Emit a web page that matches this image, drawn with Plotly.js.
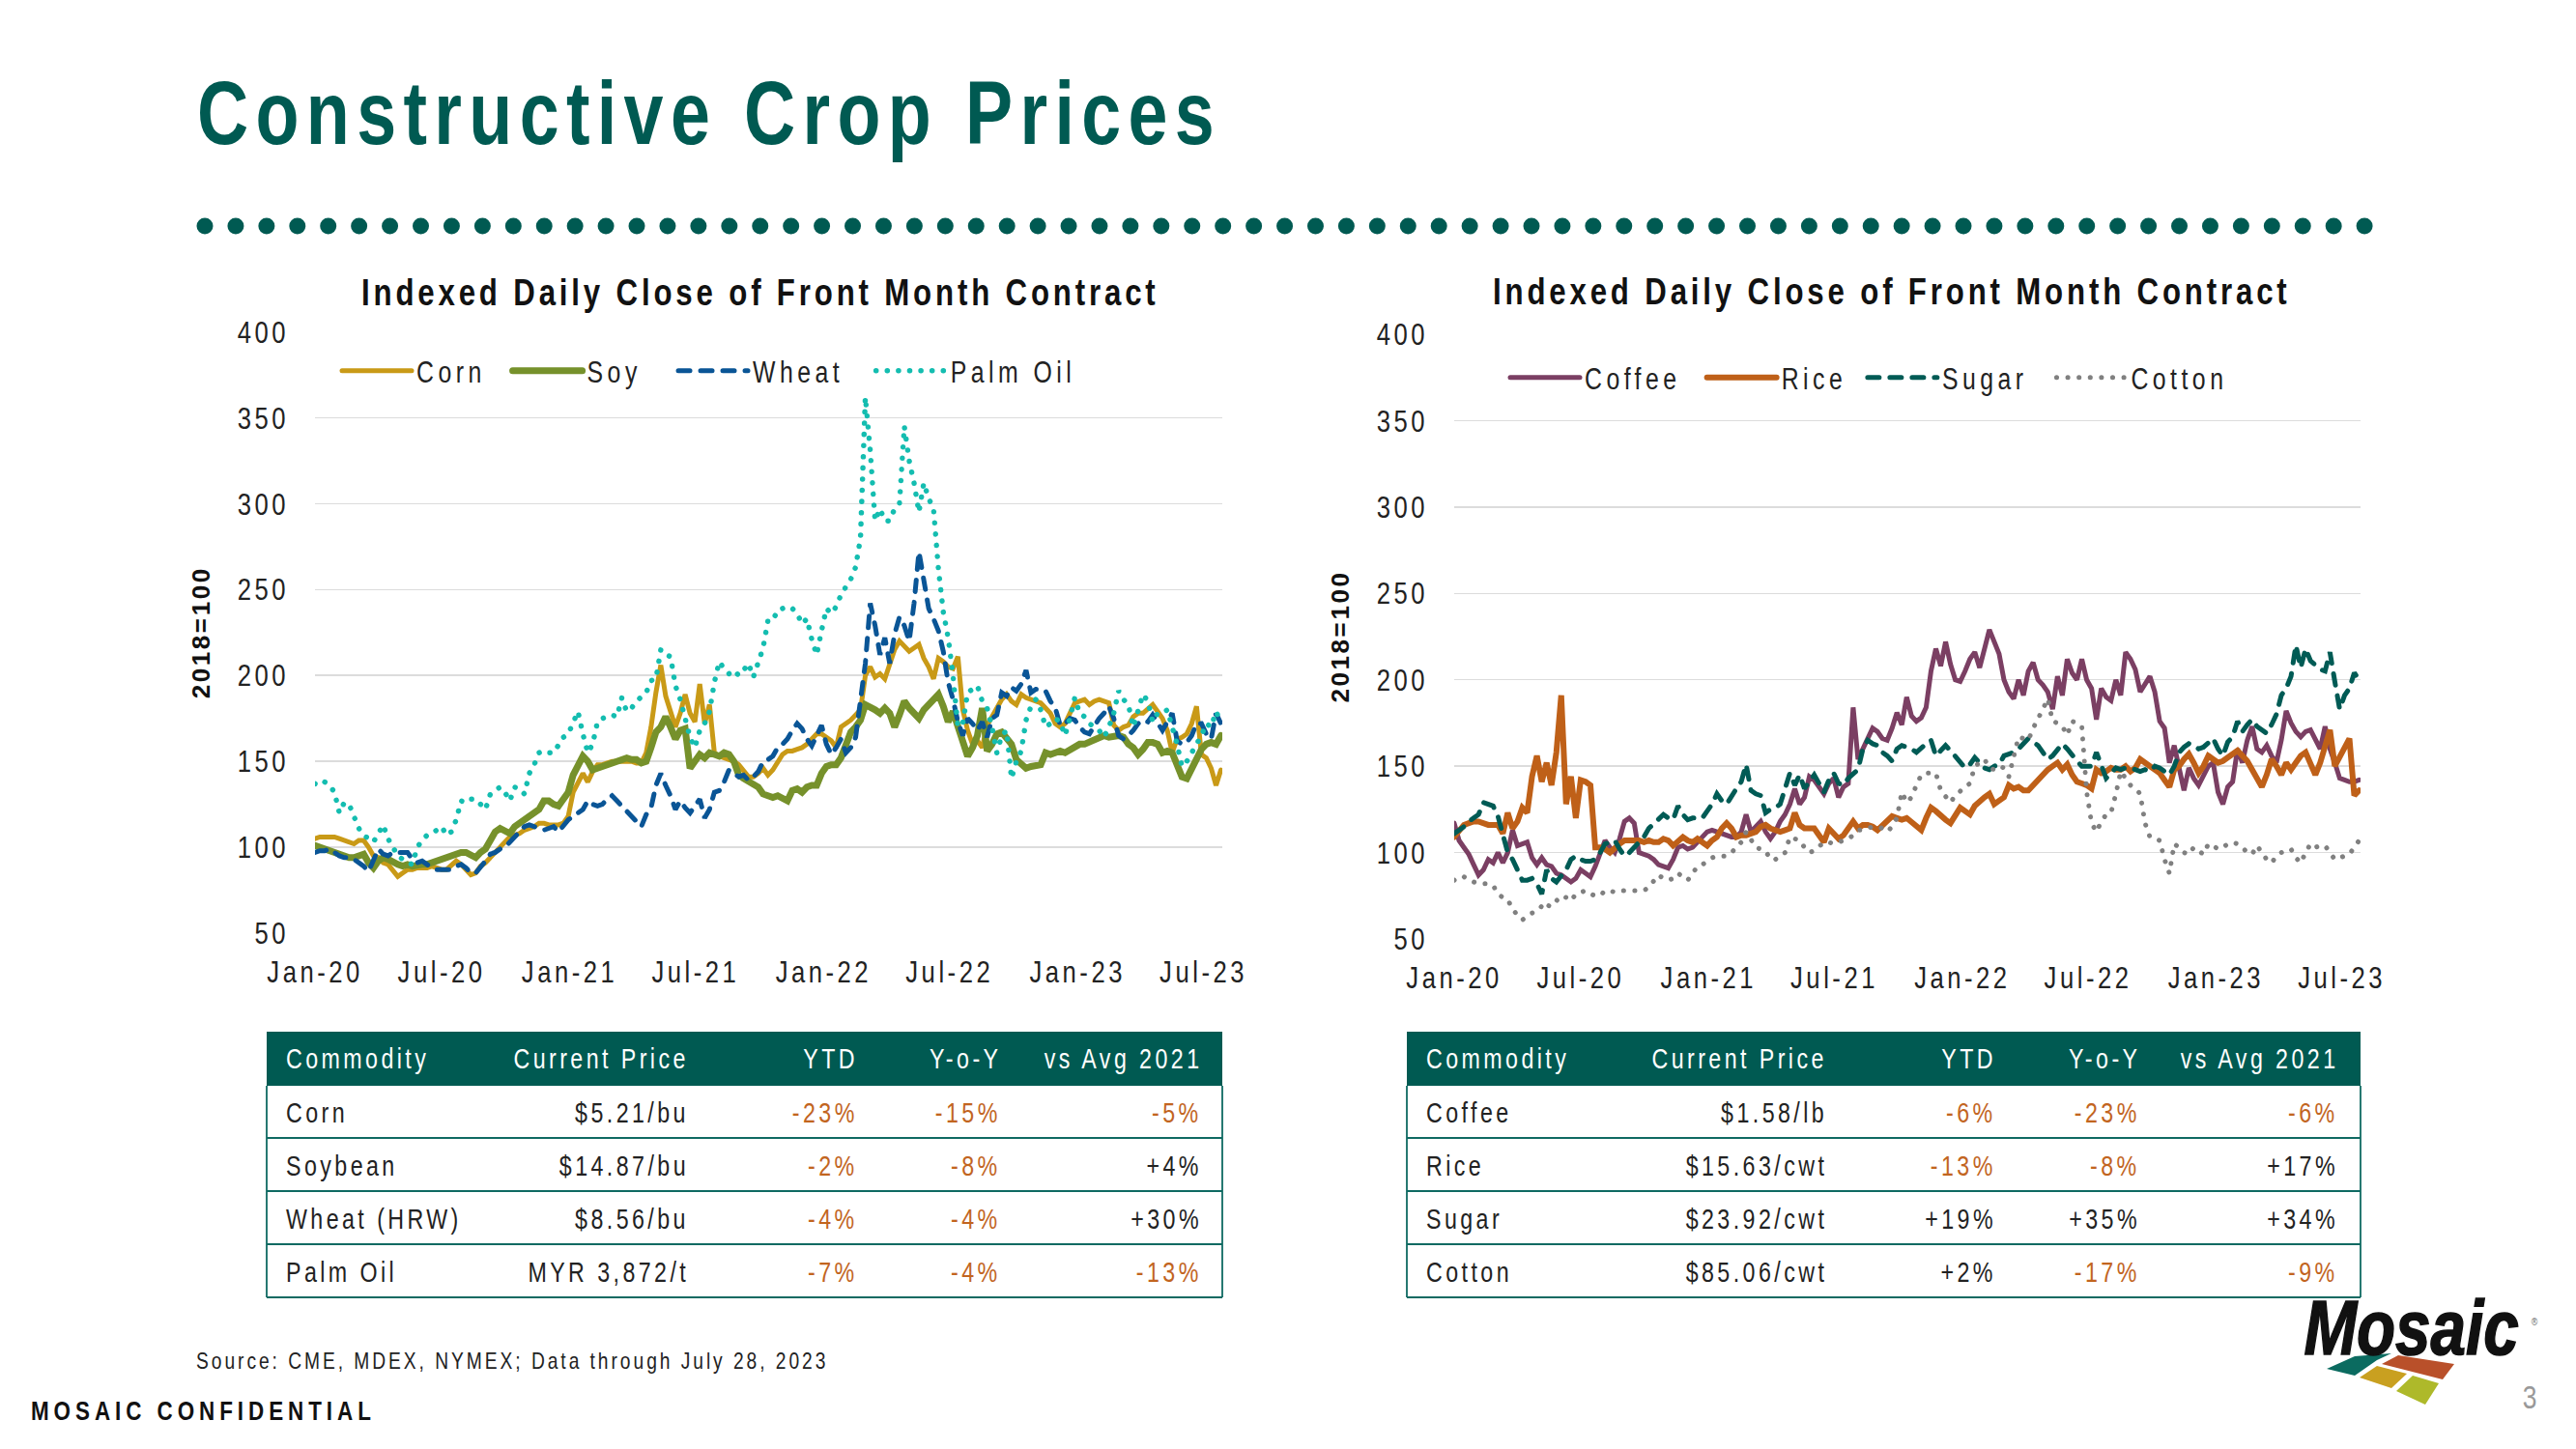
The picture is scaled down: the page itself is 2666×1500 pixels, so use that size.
<!DOCTYPE html>
<html>
<head>
<meta charset="utf-8">
<script src="https://cdn.plot.ly/plotly-3.0.1.min.js"></script>
<style>
html,body{margin:0;padding:0;background:#fff;}
#chart{width:2666px;height:1500px;}
.legendtext{letter-spacing:5.6px;}
.js-line{stroke-linecap:round;}
</style>
</head>
<body>
<div id="chart"></div>
<script>
// Weekly reads of the daily index (one row = one half-year, Jan-20 onward)
const corn=[105,106,106,106,106,105,104,103,102,104,104,100,95,94,91,90,87,83,85,87,87,88,88,88,89,88,
87,87,90,92,90,87,84,85,89,91,94,98,100,103,106,107,108,110,111,112,114,114,113,113,113,114,
118,132,138,143,138,144,148,148,149,150,150,150,150,150,149,149,155,170,190,206,188,178,170,178,189,178,
173,195,172,183,155,153,152,151,150,148,145,141,141,143,146,142,145,150,154,156,156,157,158,160,163,166,
166,164,162,158,170,172,174,177,180,200,205,199,201,198,206,215,220,217,214,216,218,210,205,198,210,208,
205,204,211,180,168,160,162,158,171,176,181,186,189,185,183,189,187,186,185,184,181,178,172,170,172,178,
184,185,186,183,185,186,185,184,171,168,170,171,176,178,178,181,183,179,175,168,155,163,164,166,172,182,
154,152,146,136,145];
const soy=[101,100,99,98,96,95,95,94,94,95,96,91,88,92,94,93,91,90,89,90,89,90,90,90,91,92,
93,95,95,96,97,97,95,94,97,99,104,109,111,109,108,112,114,115,118,120,122,127,127,125,124,128,
132,142,148,153,150,145,146,147,148,150,150,151,152,151,151,149,150,158,167,170,176,170,163,168,169,146,
150,154,152,155,154,153,155,154,150,142,140,138,136,135,131,130,129,130,128,127,133,134,132,135,136,136,
143,147,148,148,152,160,167,170,174,183,182,180,178,181,178,170,177,185,181,178,175,180,183,185,189,182,173,
179,170,160,153,158,165,181,156,160,166,167,164,160,151,148,146,147,148,148,155,154,155,156,155,157,158,
160,160,161,162,163,165,164,165,165,164,160,158,154,157,161,161,160,155,156,155,148,141,140,146,152,157,
160,161,160,165,161];
const wheat=[97,98,98,99,97,95,94,94,93,91,89,86,93,99,96,95,97,97,97,97,93,91,92,90,88,87,
87,87,87,89,90,88,85,85,88,92,96,97,99,100,103,106,109,112,113,112,111,110,111,112,109,113,
116,118,120,122,127,125,124,125,128,130,127,124,120,117,114,112,119,123,136,143,136,130,122,127,123,120,
124,128,117,122,132,133,138,145,143,141,142,139,141,144,150,151,153,158,160,163,168,172,169,163,159,165,
171,160,154,158,163,155,158,164,188,207,242,229,212,222,207,224,234,229,220,242,272,255,239,233,226,214,
196,186,173,165,175,172,168,173,164,175,177,190,188,193,191,195,203,190,192,192,191,185,181,171,172,175,
174,170,167,166,171,175,178,182,175,165,163,165,168,172,174,173,177,172,168,173,178,162,160,161,165,172,
172,166,163,178,172];
const palm=[137,136,138,136,132,120,126,125,118,111,107,105,103,108,113,105,100,95,93,91,90,100,104,107,108,110,
112,107,109,116,127,126,128,128,125,122,131,133,135,132,127,135,134,131,143,148,155,156,155,155,160,164,
166,173,179,166,155,160,173,175,176,177,176,187,179,181,185,188,190,197,198,215,212,211,194,186,175,164,
158,168,172,179,196,208,204,201,203,200,203,207,199,207,216,232,232,238,239,240,239,236,230,233,221,212,
226,239,236,240,247,252,256,263,280,362,331,290,297,290,290,297,300,345,325,312,295,312,303,297,262,237,
222,200,170,172,190,192,194,185,181,170,155,165,168,140,150,156,174,182,186,180,170,172,175,173,165,175,
187,178,176,172,170,168,164,170,178,191,186,183,170,180,189,185,173,178,178,180,170,160,147,150,155,160,
165,172,170,179,173];
const coffee=[117,107,103,99,93,87,90,96,94,100,94,100,113,104,105,106,97,93,97,93,92,88,87,85,83,85,
90,88,86,92,100,107,103,100,108,118,120,117,100,99,98,96,93,92,91,96,103,104,102,103,106,110,
112,113,112,111,110,109,109,112,122,112,115,118,112,108,112,118,122,128,137,128,132,144,142,138,134,140,
143,132,138,140,184,154,160,165,172,170,166,165,172,181,174,190,179,176,178,184,205,218,208,222,209,200,
199,205,212,216,207,218,229,222,215,200,193,189,200,191,205,210,200,197,193,183,202,191,212,204,200,212,
200,195,177,195,190,188,200,191,216,212,206,193,198,202,193,176,172,152,162,148,136,149,143,139,145,150,
152,135,128,138,141,160,152,165,173,160,158,162,156,152,165,182,175,170,167,170,171,165,160,173,160,152,
143,142,141,141,142];
const rice=[109,112,116,117,118,118,117,116,116,116,111,123,114,118,126,123,144,156,141,152,139,158,191,128,144,120,
142,141,139,103,103,102,100,103,105,107,107,107,107,106,107,106,106,108,107,104,107,109,107,106,108,106,
104,107,109,114,117,114,109,110,110,111,112,115,116,114,113,112,113,114,123,116,114,114,114,110,106,114,
111,108,110,114,118,114,116,116,115,113,116,119,121,120,119,120,118,116,113,120,126,124,121,119,117,122,
126,124,122,127,130,132,134,128,130,132,139,137,138,136,136,139,143,146,148,150,152,148,151,145,141,140,
139,137,148,146,147,149,148,148,150,147,149,154,152,150,148,146,142,138,148,150,154,157,152,146,150,156,
154,152,153,155,158,159,156,153,148,143,138,145,154,150,145,152,148,152,156,158,151,145,152,162,171,150,
155,160,166,133,136];
const sugar=[111,113,115,118,120,122,129,128,127,121,110,100,96,90,84,84,85,82,76,90,85,83,87,90,96,98,
96,95,95,96,100,105,106,107,102,98,100,103,106,109,114,117,119,122,120,119,127,122,119,120,120,120,
124,128,134,130,128,133,137,141,151,136,134,133,123,125,126,128,137,146,139,145,137,141,145,140,135,142,
146,140,139,143,146,148,160,165,163,162,158,156,153,160,162,161,160,158,161,163,165,156,159,162,159,156,
153,149,151,155,152,149,148,150,151,156,157,158,160,163,166,164,162,158,154,156,160,163,160,156,153,150,
150,150,158,150,143,146,149,148,149,149,148,147,148,147,150,149,147,145,150,158,161,163,162,160,161,164,
166,160,156,164,167,176,170,174,177,173,171,169,174,180,191,195,202,220,207,218,211,208,206,205,216,199,
183,191,195,204,200];
const cotton=[84,86,86,84,83,82,82,82,81,76,74,73,67,64,61,63,65,66,69,67,72,72,75,74,72,76,
77,78,76,75,75,78,78,77,78,78,78,78,78,78,80,84,87,85,84,85,88,86,84,88,92,93,
95,97,98,98,98,100,103,106,112,107,103,102,101,96,96,98,100,109,108,107,103,100,101,104,106,106,
105,106,107,108,110,113,113,114,115,115,114,112,115,120,135,129,132,139,145,146,146,146,136,132,129,133,
136,138,140,150,152,154,149,148,150,149,144,155,167,166,165,172,177,183,189,176,175,173,168,176,175,173,
135,117,112,118,122,123,134,147,143,139,137,134,117,109,108,107,96,88,105,103,100,99,103,101,99,105,
104,102,103,105,106,105,103,100,99,104,100,96,94,98,100,101,102,97,94,100,105,103,104,104,100,96,
97,98,99,103,107];

const xTickVals=['2020-01-01','2020-07-01','2021-01-01','2021-07-01','2022-01-01','2022-07-01','2023-01-01','2023-07-01'];
const xTickText=['Jan-20','Jul-20','Jan-21','Jul-21','Jan-22','Jul-22','Jan-23','Jul-23'];
const yTickVals=[50,100,150,200,250,300,350,400];
const tableHead=['Commodity','Current Price','YTD','Y-o-Y','vs Avg 2021'];
const leftRows=[['Corn','$5.21/bu','-23%','-15%','-5%'],['Soybean','$14.87/bu','-2%','-8%','+4%'],
['Wheat (HRW)','$8.56/bu','-4%','-4%','+30%'],['Palm Oil','MYR 3,872/t','-7%','-4%','-13%']];
const rightRows=[['Coffee','$1.58/lb','-6%','-23%','-6%'],['Rice','$15.63/cwt','-13%','-8%','+17%'],
['Sugar','$23.92/cwt','+19%','+35%','+34%'],['Cotton','$85.06/cwt','+2%','-17%','-9%']];

const SANS='"Liberation Sans",sans-serif';
const W=2666,H=1500;
const GREEN='#005A52',ORANGE='#C2651F',TXT='#222222';
const px=v=>v/W, py=v=>1-v/H;
const start=Date.UTC(2020,0,1);
const dates=corn.map((_,i)=>new Date(start+i*7*864e5).toISOString().slice(0,10));

// pad: temporary no-break spaces that widen a legend entry during layout, removed after render
const line=(name,y,color,width,dash,xa,ya,leg,pad=0)=>({type:'scatter',mode:'lines',name:name+'\u00a0'.repeat(pad),x:dates.slice(0,y.length),y,
  xaxis:xa,yaxis:ya,legend:leg,hoverinfo:'skip',line:{color,width,dash,shape:'linear'}});
const DOT='0.1px,11.5px',DASH='12px,11px';
const data=[
 line('Corn',corn,'#C99A17',5,'solid','x','y','legend'),
 line('Soy',soy,'#76912B',7,'solid','x','y','legend',1),
 line('Wheat',wheat,'#0A5596',5,DASH,'x','y','legend'),
 line('Palm Oil',palm,'#14BDB0',5.5,DOT,'x','y','legend'),
 line('Coffee',coffee,'#7B3F63',5,'solid','x2','y2','legend2',3),
 line('Rice',rice,'#BF6018',6,'solid','x2','y2','legend2',2),
 line('Sugar',sugar,'#005B55',5,DASH,'x2','y2','legend2',3),
 line('Cotton',cotton,'#808080',5,DOT,'x2','y2','legend2')
];
const xax=(l,r,anc)=>({domain:[px(l),px(r)],anchor:anc,type:'date',range:['2020-01-01','2023-07-28'],tickmode:'array',
  tickvals:xTickVals,ticktext:xTickText,showgrid:false,zeroline:false,showline:false,ticks:'',ticklabelstandoff:18,
  tickfont:{family:SANS,size:32,color:TXT},tickangle:0,ticklabeloverflow:'allow'});
const yax=(t,b,anc)=>({domain:[py(b),py(t)],anchor:anc,range:[50,400],tickmode:'array',tickvals:yTickVals,
  showgrid:true,gridcolor:'#DCDCDC',gridwidth:1.5,zeroline:false,showline:false,ticks:'',ticklabelstandoff:26,
  tickfont:{family:SANS,size:32,color:TXT},
  title:{text:'2018=100',standoff:20,font:{family:SANS,size:26,color:'#111',weight:700}}});

const shapes=[],ann=[];
// dotted rule
for(let i=0;i<71;i++){const cx=212+i*31.93;shapes.push({type:'circle',xref:'paper',yref:'paper',x0:px(cx-8.5),x1:px(cx+8.5),y0:py(234+8.5),y1:py(234-8.5),fillcolor:GREEN,line:{width:0}});}
const txt=(x,y,text,o={})=>{const a=Object.assign({xref:'paper',yref:'paper',x:px(x),y:py(y),text,showarrow:false,xanchor:'left',yanchor:'middle',borderpad:0,
  font:Object.assign({family:SANS,size:30,color:TXT},o.font||{})},o.a||{});a.align=a.xanchor;ann.push(a);};
// chart titles
txt(787,303,'Indexed Daily Close of Front Month Contract',{a:{xanchor:'center'},font:{size:39,weight:700,color:'#111'}});
txt(1958,301,'Indexed Daily Close of Front Month Contract',{a:{xanchor:'center'},font:{size:39,weight:700,color:'#111'}});
// tables
function table(rows,L,R,cols){
  const top=1068,hdr=1124,rh=55;
  shapes.push({type:'rect',xref:'paper',yref:'paper',x0:px(L),x1:px(R),y0:py(hdr),y1:py(top),fillcolor:GREEN,line:{width:0}});
  for(let r=1;r<=4;r++)shapes.push({type:'line',xref:'paper',yref:'paper',x0:px(L),x1:px(R),y0:py(hdr+r*rh-1),y1:py(hdr+r*rh-1),line:{color:'#0F6A62',width:1.8}});
  [L,R].forEach(x=>shapes.push({type:'line',xref:'paper',yref:'paper',x0:px(x),x1:px(x),y0:py(hdr),y1:py(hdr+4*rh-1),line:{color:'#0F6A62',width:1.8}}));
  tableHead.forEach((t,c)=>txt(cols[c],1096,t,{a:{xanchor:c?'right':'left'},font:{color:'#FFFFFF',size:29}}));
  rows.forEach((row,r)=>row.forEach((t,c)=>txt(cols[c],hdr+28+r*55,t,{a:{xanchor:c?'right':'left'},font:{size:29,color:(c>=2&&t[0]==='-')?ORANGE:TXT}})));
}
table(leftRows,276,1265,[295,714,889,1037,1245]);
table(rightRows,1456,2443,[1475,1892,2067,2216,2421]);
txt(202,1408,'Source: CME, MDEX, NYMEX; Data through July 28, 2023',{font:{size:24}});
txt(31,1460,'MOSAIC CONFIDENTIAL',{font:{size:28,weight:700,color:'#111'}});
txt(2618,1446,'3',{font:{size:33,color:'#999999'},a:{xanchor:'center'}});
// logo
txt(2495,1374,'Mosaic',{a:{xanchor:'center'},font:{size:80,weight:700,style:'italic',color:'#111'}});
txt(2623,1368,'®',{a:{xanchor:'center'},font:{size:11,color:'#666'}});
const poly=(pts,fill)=>shapes.push({type:'path',xref:'paper',yref:'paper',fillcolor:fill,line:{width:0},
  path:'M'+pts.map(p=>px(p[0])+','+py(p[1])).join(' L')+' Z'});
poly([[2408,1417],[2437,1404],[2475,1401],[2460,1408],[2437,1424]],'#0B6B60');
poly([[2465,1412],[2482,1403],[2540,1412],[2528,1428]],'#B9502A');
poly([[2442,1426],[2460,1414],[2491,1422],[2475,1437]],'#C9A020');
poly([[2480,1440],[2497,1424],[2524,1432],[2510,1454]],'#AEB92A');

const legendOf=(x,y)=>({x:px(x),y:py(y),xanchor:'left',yanchor:'middle',orientation:'h',bgcolor:'rgba(0,0,0,0)',borderwidth:0,
  itemwidth:72,tracegroupgap:0,font:{family:SANS,size:31,color:TXT},itemclick:false,itemdoubleclick:false});

const layout={width:W,height:H,margin:{l:0,r:0,t:0,b:0,autoexpand:false},paper_bgcolor:'#fff',plot_bgcolor:'#fff',showlegend:true,
  title:{text:'Constructive Crop Prices',x:px(204),xanchor:'left',xref:'paper',y:py(117),yanchor:'middle',yref:'paper',
    font:{family:SANS,size:92,weight:700,color:GREEN}},
  xaxis:xax(326,1265,'y'),yaxis:yax(343.5,966,'x'),
  xaxis2:xax(1505,2443,'y2'),yaxis2:yax(346,972,'x2'),
  legend:legendOf(349,384),legend2:legendOf(1558,391),
  shapes,annotations:ann};
// The reference type is a condensed, letter-spaced grotesque: condense each text in place.
const SPACING={92:9.2,39:4.8,32:4.4,31:5.6,29:4.3,28:6.2,24:3.7,33:0,80:0,11:0};
Plotly.newPlot('chart',data,layout,{displayModeBar:false,staticPlot:true}).then(gd=>{
  gd.querySelectorAll('svg text').forEach(t=>{
    if(t.closest('.g-ytitle,.g-y2title')){t.style.letterSpacing='2.6px';return;}
    if(t.classList.contains('legendtext'))t.textContent=t.textContent.trim();
    const size=Math.round(parseFloat(getComputedStyle(t).fontSize));
    if(size in SPACING&&!t.classList.contains('legendtext'))t.style.letterSpacing=SPACING[size]+'px';
    const logo=size===80;
    if(logo){t.style.stroke='#111';t.style.strokeWidth='1.6px';}
    const len=t.getComputedTextLength();
    if(len>0){t.setAttribute('textLength',(len*(logo?0.82:0.8)).toFixed(1));t.setAttribute('lengthAdjust','spacingAndGlyphs');}
  });
});
</script>
</body>
</html>
